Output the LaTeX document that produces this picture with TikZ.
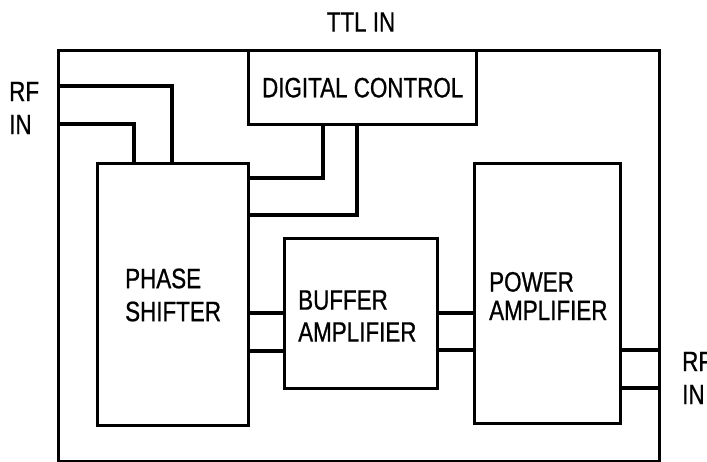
\documentclass[tikz,border=0pt]{standalone}
\usepackage{fontspec}
\setmainfont[FakeStretch=0.8,FakeBold=0.8]{Liberation Sans}
\begin{document}
\begin{tikzpicture}[x=1pt,y=-1pt,
  box/.style={draw=black, line width=3.4pt, rectangle, inner sep=0pt, anchor=north west},
  wire/.style={draw=black, line width=3.4pt},
  lbl/.style={inner sep=0pt, font=\fontsize{28}{33}\selectfont, align=left}]
\useasboundingbox (0,0) rectangle (707,462);
\node[box, minimum width=601pt, minimum height=411pt] (outer) at (57,49) {};
\node[box, minimum width=228pt, minimum height=74pt] (dc) at (247,49) {};
\node[box, minimum width=151pt, minimum height=262pt] (ps) at (96,162) {};
\node[box, minimum width=153pt, minimum height=150pt] (ba) at (283,237) {};
\node[box, minimum width=146pt, minimum height=260pt] (pa) at (473,162) {};
% labels
\node[lbl] (dct) at (dc.center) {DIGITAL CONTROL};
\node[lbl, anchor=west] (pst) at (125,295) {PHASE\\SHIFTER};
\node[lbl, anchor=west, font=\fontsize{28}{32}\selectfont] (bat) at (298,316) {BUFFER\\AMPLIFIER};
\node[lbl, anchor=west, font=\fontsize{28}{28.5}\selectfont] (pat) at (489,296) {POWER\\AMPLIFIER};
\node[lbl] (ttl) at (361,22) {TTL IN};
\node[lbl, anchor=west] (rfl) at (9,108) {RF\\IN};
\node[lbl, anchor=west] (rfr) at (682,378) {RF\\IN};
% RF input wires
\draw[wire] (outer.west |- 0,86) -| (ps.north -| 172,0);
\draw[wire] (outer.west |- 0,124) -| (ps.north -| 134,0);
% digital control wires
\draw[wire] (dc.south -| 323,0) |- (ps.east |- 0,178);
\draw[wire] (dc.south -| 357,0) |- (ps.east |- 0,215);
% phase shifter to buffer
\draw[wire] (ps.east |- 0,313) -- (ba.west |- 0,313);
\draw[wire] (ps.east |- 0,351) -- (ba.west |- 0,351);
% buffer to power amp
\draw[wire] (ba.east |- 0,313) -- (pa.west |- 0,313);
\draw[wire] (ba.east |- 0,350) -- (pa.west |- 0,350);
% power amp to output
\draw[wire] (pa.east |- 0,350) -- (outer.east |- 0,350);
\draw[wire] (pa.east |- 0,388) -- (outer.east |- 0,388);
\end{tikzpicture}
\end{document}
